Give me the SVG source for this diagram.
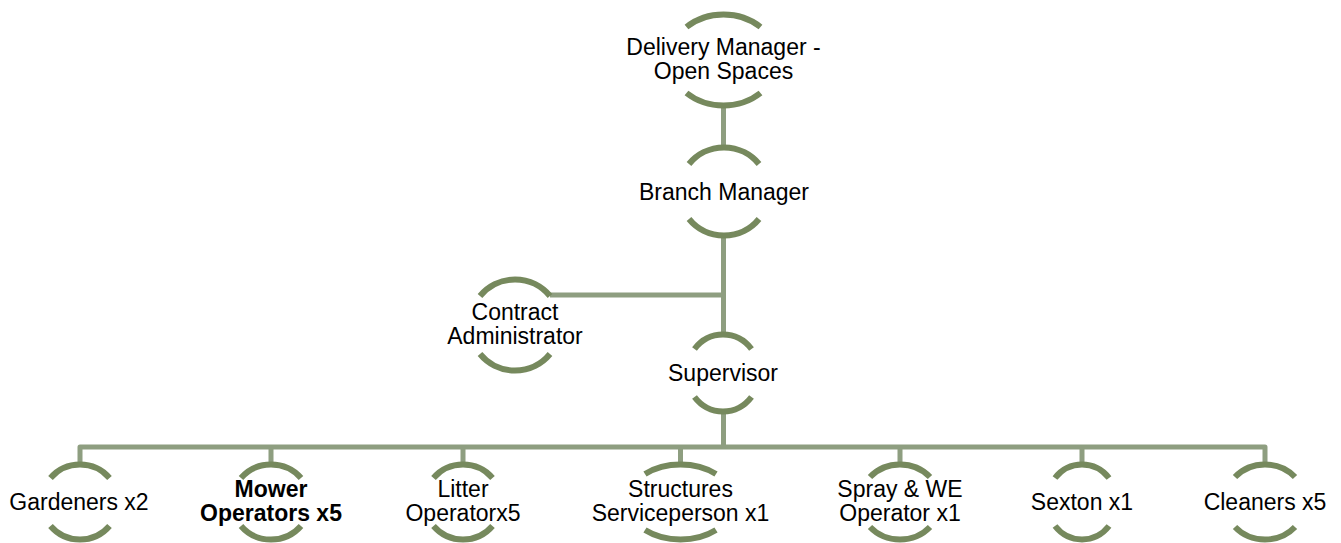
<svg xmlns="http://www.w3.org/2000/svg" width="1341" height="543" viewBox="0 0 1341 543">
<style>
.arc{fill:none;stroke:#76895d;stroke-width:6}
.conn{fill:none;stroke:#8e9e80;stroke-width:5;stroke-linejoin:round}
.t{font-family:"Liberation Sans",Arial,sans-serif;font-size:23px;fill:#000;text-anchor:middle}
.b{font-weight:bold}
</style>
<rect width="1341" height="543" fill="#fff"/>
<g id="connectors">
<path class="conn" d="M723.5,105 V148"/>
<path class="conn" d="M723.5,235 V335"/>
<path class="conn" d="M550,295 H723.5"/>
<path class="conn" d="M723.5,411 V447"/>
<path class="conn" d="M80,465 V447 H1265 V465"/>
<path class="conn" d="M271,447 V465 M463,447 V465 M680.5,447 V465 M900,447 V465 M1082,447 V465"/>
</g>
<g id="node-delivery-manager">
<path class="arc" d="M686.5,27 A53.8,45.5 0 0 1 760.5,27"/>
<path class="arc" d="M686.5,93 A53.8,45.5 0 0 0 760.5,93"/>
<text class="t" x="723.5" y="55">Delivery Manager -</text>
<text class="t" x="723.5" y="79">Open Spaces</text>
</g>
<g id="node-branch-manager">
<path class="arc" d="M689,164 A44.8,44 0 0 1 759,164"/>
<path class="arc" d="M689,219 A44.8,44 0 0 0 759,219"/>
<text class="t" x="724" y="200">Branch Manager</text>
</g>
<g id="node-contract-administrator">
<path class="arc" d="M480,296 A45.4,45.5 0 0 1 550,296"/>
<path class="arc" d="M480,354 A45.4,45.5 0 0 0 550,354"/>
<text class="t" x="515" y="320">Contract</text>
<text class="t" x="515" y="344">Administrator</text>
</g>
<g id="node-supervisor">
<path class="arc" d="M694.5,349 A36.5,38.5 0 0 1 751.5,349"/>
<path class="arc" d="M694.5,397 A36.5,38.5 0 0 0 751.5,397"/>
<text class="t" x="723" y="381">Supervisor</text>
</g>
<g id="node-gardeners">
<path class="arc" d="M50.5,478 A38.4,37.5 0 0 1 109.5,478"/>
<path class="arc" d="M50.5,526 A38.4,37.5 0 0 0 109.5,526"/>
<text class="t" x="79" y="510">Gardeners x2</text>
</g>
<g id="node-mower-operators">
<path class="arc" d="M241,478 A39,37.5 0 0 1 301,478"/>
<path class="arc" d="M241,526 A39,37.5 0 0 0 301,526"/>
<text class="t b" x="271" y="497">Mower</text>
<text class="t b" x="271" y="521">Operators x5</text>
</g>
<g id="node-litter-operator">
<path class="arc" d="M433.5,478 A38.4,37.5 0 0 1 492.5,478"/>
<path class="arc" d="M433.5,526 A38.4,37.5 0 0 0 492.5,526"/>
<text class="t" x="463" y="497">Litter</text>
<text class="t" x="463" y="521">Operatorx5</text>
</g>
<g id="node-structures-serviceperson">
<path class="arc" d="M645,474 A53.4,37.5 0 0 1 716,474"/>
<path class="arc" d="M645,530 A53.4,37.5 0 0 0 716,530"/>
<text class="t" x="680.5" y="497">Structures</text>
<text class="t" x="680.5" y="521">Serviceperson x1</text>
</g>
<g id="node-spray-we-operator">
<path class="arc" d="M870,477 A40.2,37.5 0 0 1 930,477"/>
<path class="arc" d="M870,527 A40.2,37.5 0 0 0 930,527"/>
<text class="t" x="900" y="497">Spray &amp; WE</text>
<text class="t" x="900" y="521">Operator x1</text>
</g>
<g id="node-sexton">
<path class="arc" d="M1055,478 A35.2,37.5 0 0 1 1109,478"/>
<path class="arc" d="M1055,526 A35.2,37.5 0 0 0 1109,526"/>
<text class="t" x="1082" y="510">Sexton x1</text>
</g>
<g id="node-cleaners">
<path class="arc" d="M1235,477 A40.2,37.5 0 0 1 1295,477"/>
<path class="arc" d="M1235,527 A40.2,37.5 0 0 0 1295,527"/>
<text class="t" x="1265" y="510">Cleaners x5</text>
</g>
</svg>
